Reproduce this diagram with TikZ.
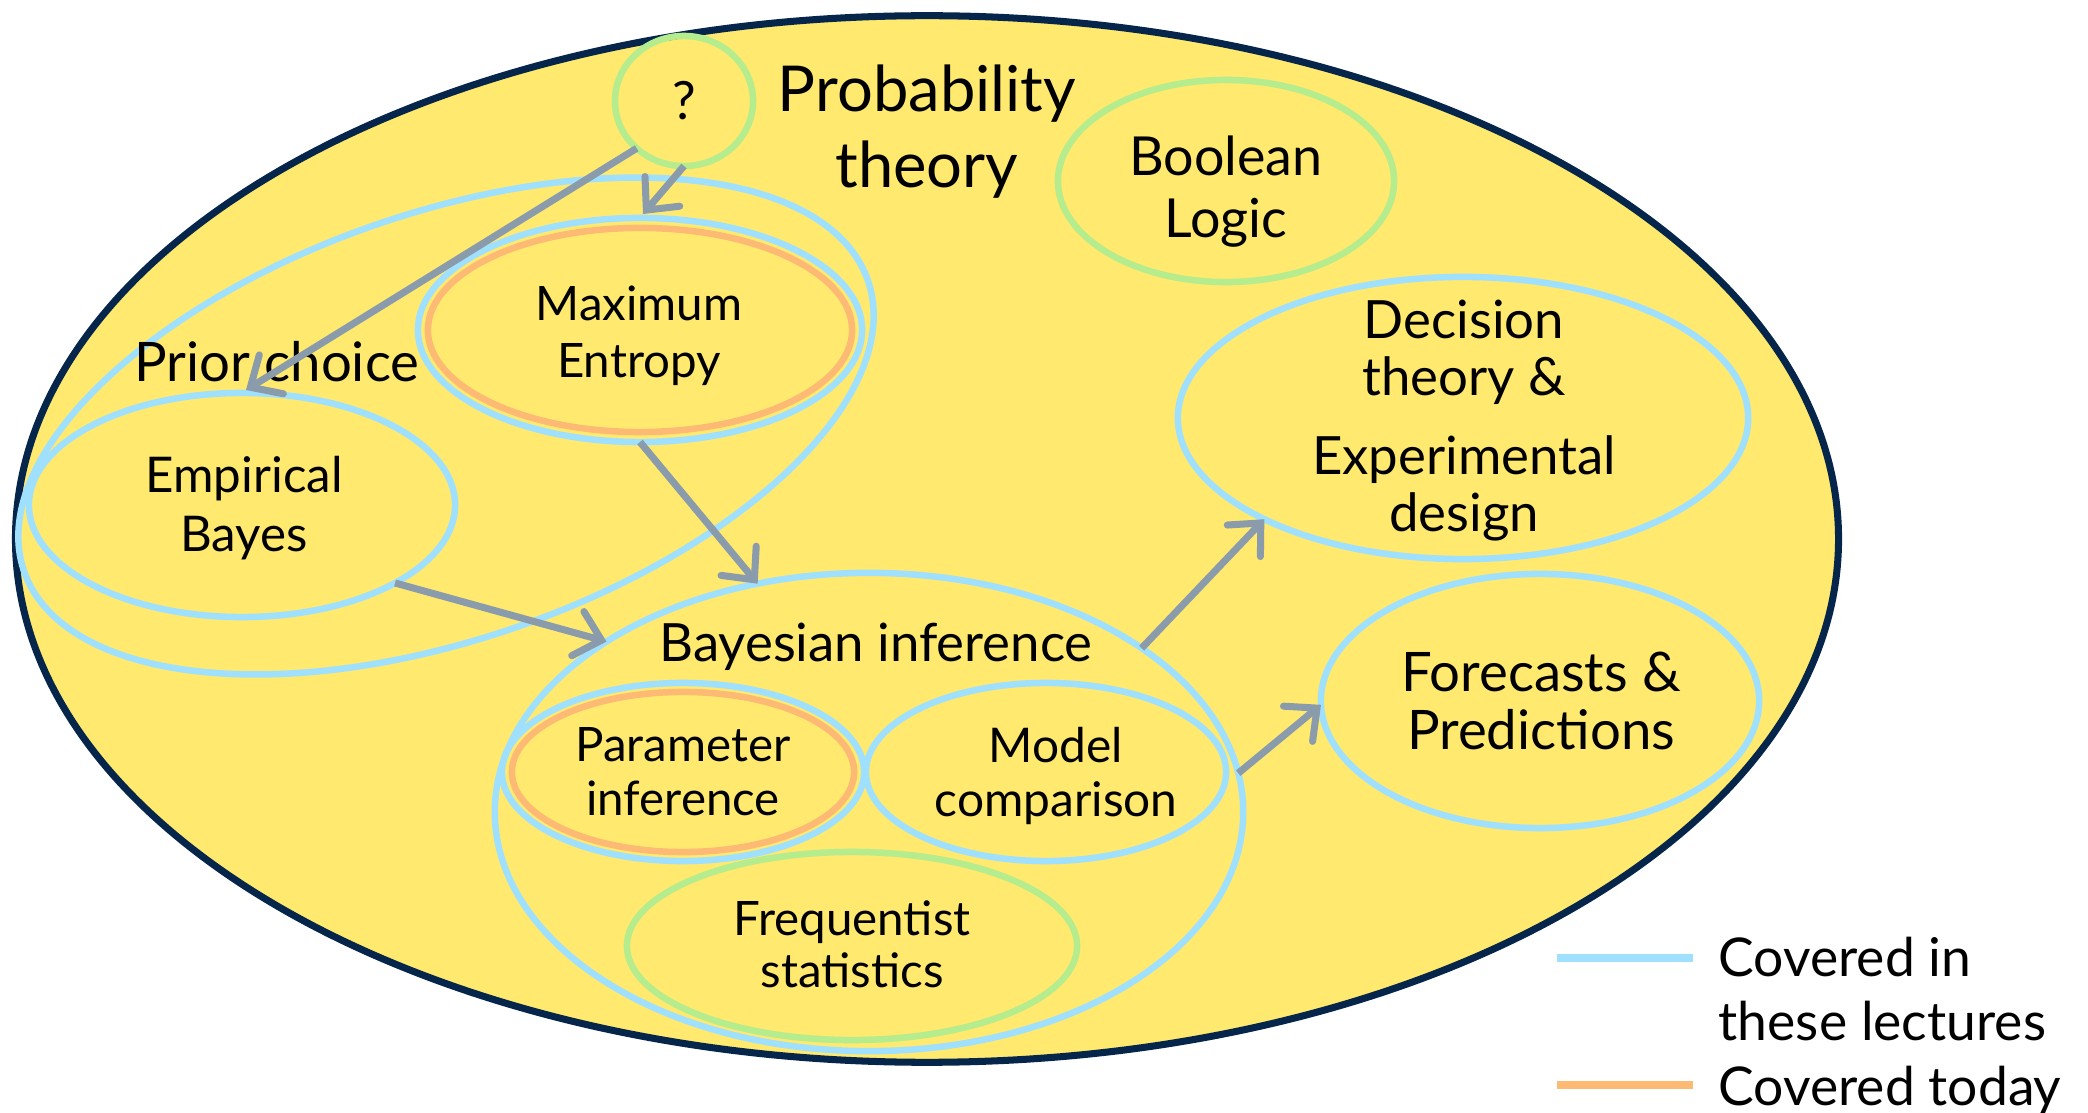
\documentclass[tikz,border=0pt]{standalone}
\usepackage{fontspec}
\setmainfont{Lato}
\usetikzlibrary{shapes.geometric,arrows.meta,calc}
\definecolor{yel}{HTML}{FFE96E}
\definecolor{navy}{HTML}{05264A}
\definecolor{lblue}{HTML}{A0E0FF}
\definecolor{lorange}{HTML}{FDBA74}
\definecolor{lgreen}{HTML}{B5EC8E}
\definecolor{agray}{HTML}{8A9BAC}
\begin{document}
\begin{tikzpicture}[x=0.01cm,y=-0.01cm,
  ell/.style={ellipse, draw, line width=1.85pt, inner sep=0pt, outer sep=0pt},
  blueell/.style={ell, draw=lblue},
  orell/.style={ell, draw=lorange},
  grell/.style={ell, draw=lgreen},
  lbl/.style={align=center, inner sep=0pt, text=black},
  arr/.style={draw=agray, line width=2pt,
    -{Straight Barb[length=7pt,width=13pt,line cap=round]}},
  legline/.style={line width=2.2pt},
]
\useasboundingbox (0,0) rectangle (2088,1113);

% outer
\node[ell, draw=navy, fill=yel, line width=2pt, minimum width=18.22cm, minimum height=10.46cm] (outer) at (927,539) {};

% ellipses
\node[grell, minimum width=1.38cm, minimum height=1.30cm] (q) at (684,101) {};
\node[grell, minimum width=3.36cm, minimum height=2.02cm] (bool) at (1226,181) {};
\node[blueell, minimum width=8.92cm, minimum height=4.26cm, rotate=19] (prior) at (446,426) {};
\node[blueell, minimum width=4.44cm, minimum height=2.24cm] (meb) at (640,330) {};
\node[orell, minimum width=4.24cm, minimum height=2.04cm] (me) at (640,330) {};
\node[blueell, minimum width=4.26cm, minimum height=2.24cm] (eb) at (242,505) {};
\node[blueell, minimum width=7.48cm, minimum height=4.78cm] (bayes) at (869,812) {};
\node[blueell, minimum width=3.62cm, minimum height=1.78cm] (parb) at (683,772) {};
\node[orell, minimum width=3.42cm, minimum height=1.60cm] (par) at (683,772) {};
\node[blueell, minimum width=3.60cm, minimum height=1.78cm] (mod) at (1046,772) {};
\node[grell, minimum width=4.50cm, minimum height=1.88cm] (freq) at (852,946) {};
\node[blueell, minimum width=5.70cm, minimum height=2.82cm] (dec) at (1463,418) {};
\node[blueell, minimum width=4.38cm, minimum height=2.54cm] (fore) at (1540,701) {};

% labels
\node[lbl, font=\fontsize{15}{18}\selectfont] (qt) at (684,101) {?};
\node[lbl, font=\fontsize{18}{21.6}\selectfont] (pt) at (927,132) {Probability\\theory};
\node[lbl, font=\fontsize{15.3}{17.6}\selectfont] (boolt) at (1226,192) {Boolean\\Logic};
\node[lbl, font=\fontsize{13.5}{16.2}\selectfont] (met) at (639,336) {Maximum\\Entropy};
\node[lbl, font=\fontsize{15.5}{19}\selectfont] (pc) at (277,362) {Prior choice};
\node[lbl, font=\fontsize{14}{17}\selectfont] (ebt) at (244,508) {Empirical\\Bayes};
\node[lbl, font=\fontsize{15}{18}\selectfont] (bt) at (876,647) {Bayesian inference};
\node[lbl, font=\fontsize{13.5}{15.4}\selectfont] (part) at (683,772) {Parameter\\inference};
\node[lbl, font=\fontsize{13.6}{15.2}\selectfont] (modt) at (1056,776) {Model\\comparison};
\node[lbl, font=\fontsize{13.5}{14.8}\selectfont] (freqt) at (852,944) {Frequentist\\statistics};
\node[lbl, font=\fontsize{15}{16.2}\selectfont] (dect) at (1464,421) {Decision\\theory \&\\[6.3pt]Experimental\\design};
\node[lbl, font=\fontsize{15.5}{16.5}\selectfont] (foret) at (1541,701) {Forecasts \&\\Predictions};

% arrows
\coordinate (pctip) at (246,390);
\coordinate (metip) at (643,214);
\draw[arr] (q.225) -- (pctip);
\draw[arr] (q.south) -- (metip);
\draw[arr] (meb.south) -- (bayes.116);
\draw[arr] (eb.-27) -- (bayes.147);
\draw[arr] (bayes.31.5) -- (dec.207);
\draw[arr] (bayes.6.7) -- (fore.181);

% legend
\coordinate (l1a) at (1557,958);
\coordinate (l1b) at (1693,958);
\coordinate (l2a) at (1557,1085);
\coordinate (l2b) at (1693,1085);
\draw[legline, draw=lblue] (l1a) -- (l1b);
\draw[legline, draw=lorange] (l2a) -- (l2b);
\node[lbl, align=left, anchor=west, font=\fontsize{15.2}{18.2}\selectfont] (leg1) at (1718,989) {Covered in\\these lectures};
\node[lbl, anchor=west, font=\fontsize{15.2}{18.2}\selectfont] (leg2) at (1718,1090) {Covered today};
\end{tikzpicture}
\end{document}
